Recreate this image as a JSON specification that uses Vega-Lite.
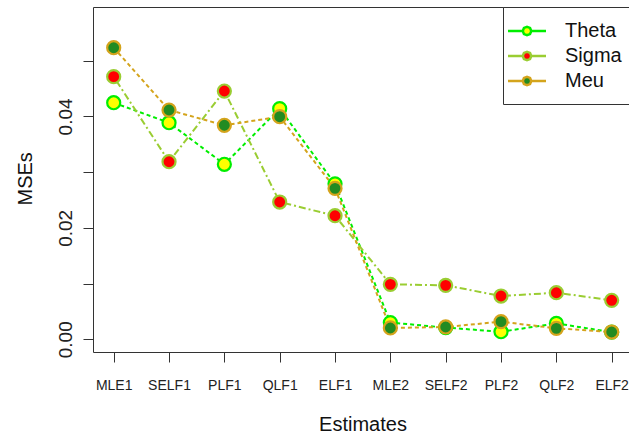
{
  "$schema": "https://vega.github.io/schema/vega-lite/v6.json",
  "width": 536,
  "height": 345,
  "autosize": {"type": "none"},
  "padding": {"left": 93, "top": 7, "right": 0, "bottom": 87},
  "background": "white",
  "config": {
    "view": {"stroke": null},
    "font": "Liberation Sans"
  },
  "data": {
    "values": [
      {"est": "MLE1", "idx": 1, "series": "Theta", "mse": 0.04246},
      {"est": "SELF1", "idx": 2, "series": "Theta", "mse": 0.03887},
      {"est": "PLF1", "idx": 3, "series": "Theta", "mse": 0.03141},
      {"est": "QLF1", "idx": 4, "series": "Theta", "mse": 0.04139},
      {"est": "ELF1", "idx": 5, "series": "Theta", "mse": 0.02790},
      {"est": "MLE2", "idx": 6, "series": "Theta", "mse": 0.00300},
      {"est": "SELF2", "idx": 7, "series": "Theta", "mse": 0.00210},
      {"est": "PLF2", "idx": 8, "series": "Theta", "mse": 0.00136},
      {"est": "QLF2", "idx": 9, "series": "Theta", "mse": 0.00285},
      {"est": "ELF2", "idx": 10, "series": "Theta", "mse": 0.00128},
      {"est": "MLE1", "idx": 1, "series": "Sigma", "mse": 0.04713},
      {"est": "SELF1", "idx": 2, "series": "Sigma", "mse": 0.03187},
      {"est": "PLF1", "idx": 3, "series": "Sigma", "mse": 0.04456},
      {"est": "QLF1", "idx": 4, "series": "Sigma", "mse": 0.02464},
      {"est": "ELF1", "idx": 5, "series": "Sigma", "mse": 0.02218},
      {"est": "MLE2", "idx": 6, "series": "Sigma", "mse": 0.00987},
      {"est": "SELF2", "idx": 7, "series": "Sigma", "mse": 0.00969},
      {"est": "PLF2", "idx": 8, "series": "Sigma", "mse": 0.00777},
      {"est": "QLF2", "idx": 9, "series": "Sigma", "mse": 0.00836},
      {"est": "ELF2", "idx": 10, "series": "Sigma", "mse": 0.00700},
      {"est": "MLE1", "idx": 1, "series": "Meu", "mse": 0.05233},
      {"est": "SELF1", "idx": 2, "series": "Meu", "mse": 0.04115},
      {"est": "PLF1", "idx": 3, "series": "Meu", "mse": 0.03841},
      {"est": "QLF1", "idx": 4, "series": "Meu", "mse": 0.03995},
      {"est": "ELF1", "idx": 5, "series": "Meu", "mse": 0.02710},
      {"est": "MLE2", "idx": 6, "series": "Meu", "mse": 0.00203},
      {"est": "SELF2", "idx": 7, "series": "Meu", "mse": 0.00221},
      {"est": "PLF2", "idx": 8, "series": "Meu", "mse": 0.00316},
      {"est": "QLF2", "idx": 9, "series": "Meu", "mse": 0.00197},
      {"est": "ELF2", "idx": 10, "series": "Meu", "mse": 0.00131}
    ]
  },
  "layer": [
    {
      "mark": {"type": "line", "strokeWidth": 2},
      "encoding": {
        "x": {
          "field": "idx", "type": "quantitative",
          "scale": {"domain": [0.626, 10.313], "nice": false, "zero": false},
          "axis": {
            "orient": "bottom",
            "values": [1, 2, 3, 4, 5, 6, 7, 8, 9, 10],
            "labelExpr": "['MLE1','SELF1','PLF1','QLF1','ELF1','MLE2','SELF2','PLF2','QLF2','ELF2'][round(datum.value)-1]",
            "grid": false,
            "domainColor": "#333", "domainWidth": 1,
            "tickColor": "#333", "tickWidth": 1, "tickSize": 10,
            "labelFont": "Liberation Sans", "labelFontSize": 14, "labelColor": "#222",
            "labelBaseline": "alphabetic", "labelPadding": 27, "labelAlign": "center",
            "labelFlush": false, "labelOverlap": false,
            "title": "Estimates",
            "titleFont": "Liberation Sans", "titleFontSize": 20, "titleFontWeight": "normal", "titleColor": "#111",
            "titleX": 269.5, "titleY": 78, "titleAlign": "center", "titleBaseline": "alphabetic"
          }
        },
        "y": {
          "field": "mse", "type": "quantitative",
          "scale": {"domain": [-0.00228, 0.05964], "nice": false, "zero": false},
          "axis": {
            "values": [0, 0.01, 0.02, 0.03, 0.04, 0.05],
            "labelExpr": "round(datum.value*100) % 2 == 0 ? format(datum.value, '.2f') : ''",
            "grid": false,
            "domainColor": "#333", "domainWidth": 1,
            "tickColor": "#333", "tickWidth": 1, "tickSize": 10,
            "labelFont": "Liberation Sans", "labelFontSize": 19, "labelColor": "#222",
            "labelAngle": 270, "labelAlign": "center", "labelBaseline": "alphabetic", "labelPadding": 12,
            "labelFlush": false, "labelOverlap": false,
            "title": "MSEs",
            "titleFont": "Liberation Sans", "titleFontSize": 20, "titleFontWeight": "normal", "titleColor": "#111",
            "titleAngle": 270, "titleX": -61.3, "titleY": 171.3, "titleAlign": "center", "titleBaseline": "alphabetic"
          }
        },
        "color": {
          "field": "series", "type": "nominal",
          "scale": {"domain": ["Meu", "Sigma", "Theta"], "range": ["#D4A41C", "#9ACD32", "#00EE00"]},
          "legend": null
        },
        "strokeDash": {
          "field": "series", "type": "nominal",
          "scale": {"domain": ["Meu", "Sigma", "Theta"], "range": [[4, 3], [2, 3, 7, 3], [4, 3]]},
          "legend": null
        }
      }
    },
    {
      "mark": {"type": "point", "shape": "circle", "filled": true, "size": 170, "strokeWidth": 2.2, "opacity": 1},
      "encoding": {
        "x": {
          "field": "idx", "type": "quantitative",
          "scale": {"domain": [0.626, 10.313], "nice": false, "zero": false},
          "axis": {
            "orient": "top", "labels": false, "ticks": false, "grid": false,
            "domain": true, "domainColor": "#333", "domainWidth": 1, "title": null
          }
        },
        "y": {
          "field": "mse", "type": "quantitative",
          "scale": {"domain": [-0.00228, 0.05964], "nice": false, "zero": false}
        },
        "fill": {
          "field": "series", "type": "nominal",
          "scale": {"domain": ["Theta", "Sigma", "Meu"], "range": ["#FFFF00", "#FF0000", "#228B22"]},
          "legend": {
            "orient": "none", "legendX": 410, "legendY": 0,
            "title": null, "padding": 13,
            "strokeColor": "#333", "fillColor": "white",
            "symbolType": "M-2,0H-0.45M0.45,0H2M0.45,0L0.32,0.32L0,0.45L-0.32,0.32L-0.45,0L-0.32,-0.32L0,-0.45L0.32,-0.32Z",
            "symbolSize": 361, "symbolStrokeWidth": 2.5,
            "labelFont": "Liberation Sans", "labelFontSize": 20, "labelColor": "#111",
            "labelOffset": 27, "rowPadding": 4
          }
        },
        "stroke": {
          "field": "series", "type": "nominal",
          "scale": {"domain": ["Theta", "Sigma", "Meu"], "range": ["#00EE00", "#9ACD32", "#D4A41C"]},
          "legend": null
        }
      }
    }
  ],
  "resolve": {"axis": {"x": "independent"}}
}
